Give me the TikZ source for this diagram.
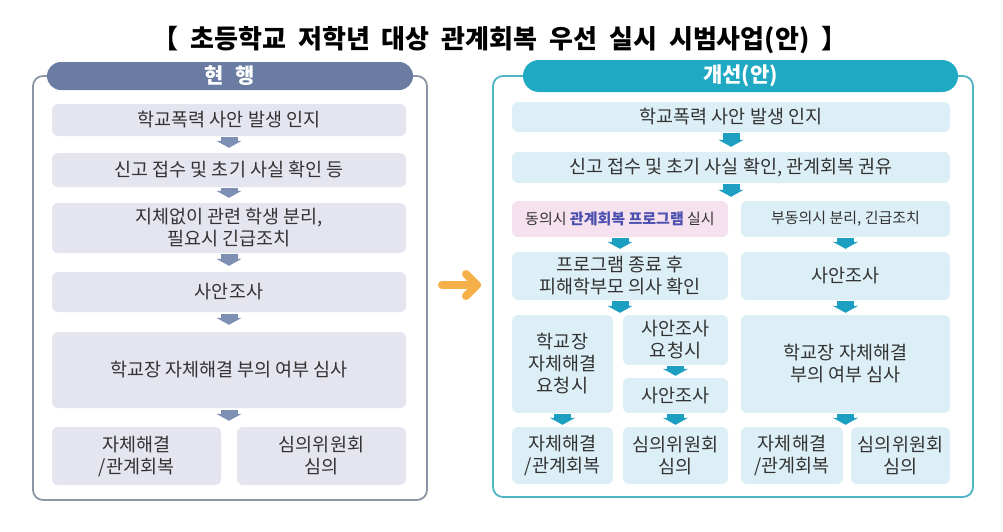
\documentclass[tikz,border=0pt]{standalone}
\usepackage{fontspec}
\setmainfont{Noto Sans CJK KR}
\newfontfamily\titlefont{Noto Sans CJK KR}
\usetikzlibrary{arrows.meta}
\definecolor{txt}{HTML}{333333}
\definecolor{lpill}{HTML}{6B7CA3}
\definecolor{lborder}{HTML}{8C95A6}
\definecolor{lfill}{HTML}{E4E5EF}
\definecolor{larrc}{HTML}{7D8FB3}
\definecolor{rpill}{HTML}{1FA9C3}
\definecolor{rborder}{HTML}{4FB5C4}
\definecolor{rfill}{HTML}{DDEFF6}
\definecolor{pinkfill}{HTML}{F6E2EE}
\definecolor{rarrc}{HTML}{1C9FC0}
\definecolor{hl}{HTML}{4B4FB0}
\definecolor{orng}{HTML}{F5B04A}
\newcommand{\tsp}{\hspace{12pt}}
\begin{document}
\begin{tikzpicture}[x=1pt,y=-1pt,
  box/.style={rounded corners=6pt, inner sep=0pt, align=center, text=txt, font=\fontsize{18.5}{22}\selectfont},
  small/.style={font=\fontsize{15}{19}\selectfont},
  lbox/.style={box, fill=lfill},
  rbox/.style={box, fill=rfill},
  pbox/.style={box, fill=pinkfill},
  sz/.style 2 args={minimum width=#1pt, minimum height=#2pt},
  panel/.style={rounded corners=10pt, line width=1.8pt, inner sep=0pt},
  pill/.style={inner sep=0pt, text=white, font=\fontsize{21}{24}\selectfont\bfseries},
  larr/.style={draw=larrc, line width=17pt, -{Triangle[width=25pt,length=7pt]}},
  rarr/.style={draw=rarrc, line width=17pt, -{Triangle[width=25pt,length=7pt]}}
]
\useasboundingbox (0,0) rectangle (1003,531);
\fill[white] (0,0) rectangle (1003,531);

\node[font=\fontsize{26}{30}\titlefont\bfseries, text=black] (title) at (500,40)
  {【\tsp 초등학교\tsp 저학년\tsp 대상\tsp 관계회복\tsp 우선\tsp 실시\tsp 시범사업(안)\tsp 】};

% ---------- left panel ----------
\node[panel, draw=lborder, sz={394}{424}] (Lpanel) at (230,288) {};
\node[pill, fill=lpill, rounded corners=14pt, sz={366}{28}] (Lhead) at (230,76) {현\hspace{12pt}행};

\node[lbox, sz={354}{32}] (L1) at (229,120) {학교폭력 사안 발생 인지};
\node[lbox, sz={354}{34}] (L2) at (229,170) {신고 접수 및 초기 사실 확인 등};
\node[lbox, sz={354}{50}] (L3) at (229,228) {지체없이 관련 학생 분리,\\필요시 긴급조치};
\node[lbox, sz={354}{40}] (L4) at (229,292) {사안조사};
\node[lbox, sz={354}{76}] (L5) at (229,370) {학교장 자체해결 부의 여부 심사};
\node[lbox, sz={169}{58}] (L6a) at (136.5,456) {자체해결\\/관계회복};
\node[lbox, sz={169}{58}] (L6b) at (321.5,456) {심의위원회\\심의};

\draw[larr] ([yshift=-1pt]L1.south) -- ([yshift=5pt]L2.north);
\draw[larr] ([yshift=-1pt]L2.south) -- ([yshift=5pt]L3.north);
\draw[larr] ([yshift=-1pt]L3.south) -- ([yshift=6pt]L4.north);
\draw[larr] ([yshift=-2pt]L4.south) -- ([yshift=7pt]L5.north);
\draw[larr] ([yshift=-2pt]L5.south) -- ([yshift=6pt]L5.south |- L6a.north);

% ---------- orange arrow ----------
\coordinate (oa) at (442,285);
\coordinate (ob) at (477,285);
\draw[orng, line width=8pt, line cap=round, line join=round] (oa) -- (ob);
\draw[orng, line width=8pt, line cap=round, line join=round] ([shift={(-11,-11)}]ob) -- (ob) -- ([shift={(-11,11)}]ob);

% ---------- right panel ----------
\node[panel, draw=rborder, sz={480}{421}] (Rpanel) at (733,286.5) {};
\node[pill, fill=rpill, rounded corners=16pt, sz={435}{32}] (Rhead) at (740.5,76) {개선(안)};

\node[rbox, sz={438}{30}] (R1) at (731,117) {학교폭력 사안 발생 인지};
\node[rbox, sz={438}{31}] (R2) at (731,167.5) {신고 접수 및 초기 사실 확인, 관계회복 권유};
\node[pbox, small, sz={216}{36}] (R3a) at (620,219) {동의시 {\color{hl}\bfseries 관계회복 프로그램} 실시};
\node[rbox, small, sz={209}{36}] (R3b) at (845.5,219) {부동의시 분리, 긴급조치};
\node[rbox, sz={216}{48}] (R4a) at (620,276) {프로그램 종료 후\\피해학부모 의사 확인};
\node[rbox, sz={209}{48}] (R4b) at (845.5,276) {사안조사};
\node[rbox, sz={101}{98}] (R5a) at (562.5,364) {학교장\\자체해결\\요청시};
\node[rbox, sz={105}{50}] (R5b) at (675.5,340) {사안조사\\요청시};
\node[rbox, sz={105}{35}] (R5c) at (675.5,395.5) {사안조사};
\node[rbox, sz={209}{98}] (R5d) at (845.5,364) {학교장 자체해결\\부의 여부 심사};
\node[rbox, sz={101}{57}] (R6a) at (562.5,455.5) {자체해결\\/관계회복};
\node[rbox, sz={105}{57}] (R6b) at (675.5,455.5) {심의위원회\\심의};
\node[rbox, sz={102}{57}] (R6c) at (792,455.5) {자체해결\\/관계회복};
\node[rbox, sz={99}{57}] (R6d) at (900.5,455.5) {심의위원회\\심의};

\draw[rarr] ([yshift=-1pt]R1.south) -- ([yshift=5pt]R2.north);
\draw[rarr] ([yshift=-1pt]R2.south) -- ([yshift=4pt]R2.south |- R3a.north);
\draw[rarr] ([yshift=-1pt]R3a.south) -- ([yshift=3pt]R4a.north);
\draw[rarr] ([yshift=-1pt]R3b.south) -- ([yshift=3pt]R4b.north);
\draw[rarr] ([yshift=-1pt]R4a.south) -- ([yshift=2pt]R4a.south |- R5a.north);
\draw[rarr] ([yshift=-1pt]R4b.south) -- ([yshift=2pt]R5d.north);
\draw[rarr] ([yshift=-1pt]R5b.south) -- ([yshift=2pt]R5c.north);
\draw[rarr] ([yshift=-1pt]R5a.south) -- ([yshift=2pt]R6a.north);
\draw[rarr] ([yshift=-1pt]R5c.south) -- ([yshift=2pt]R6b.north);
\draw[rarr] ([yshift=-1pt]R5d.south) -- ([yshift=2pt]R5d.south |- R6c.north);
\end{tikzpicture}
\end{document}
